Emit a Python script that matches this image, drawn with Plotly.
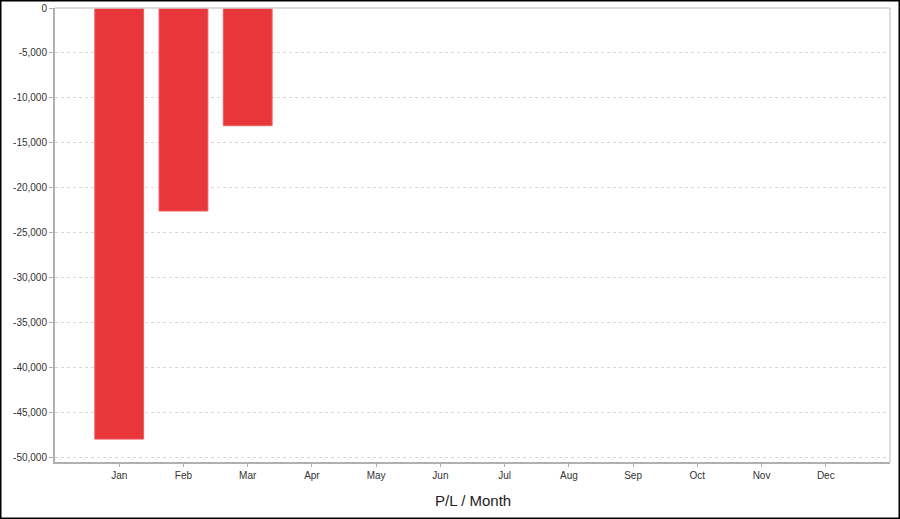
import plotly.graph_objects as go

months = ["Jan", "Feb", "Mar", "Apr", "May", "Jun", "Jul", "Aug", "Sep", "Oct", "Nov", "Dec"]
pl_values = [-48000, -22600, -13100, None, None, None, None, None, None, None, None, None]
y_tick_values = [0, -5000, -10000, -15000, -20000, -25000, -30000, -35000, -40000, -45000, -50000]
y_tick_labels = ["0", "-5,000", "-10,000", "-15,000", "-20,000", "-25,000", "-30,000",
                 "-35,000", "-40,000", "-45,000", "-50,000"]

L, R, T, B = 55, 10, 8, 57
W, H = 900, 519
pw, ph = W - L - R, H - T - B

def px_x(p):
    return (p - L) / pw

def px_y(p):
    return (H - B - p) / ph

fig = go.Figure()
fig.add_trace(go.Bar(
    x=months, y=pl_values, width=0.76,
    marker=dict(color="#e8363b", line=dict(color="#ef5a5e", width=1)),
    hoverinfo="x+y",
))

fig.update_layout(
    width=W, height=H,
    margin=dict(l=L, r=R, t=T, b=B, autoexpand=False),
    paper_bgcolor="white", plot_bgcolor="white",
    showlegend=False,
    font=dict(family="Liberation Sans, Arial, sans-serif", size=10, color="#333333"),
    xaxis=dict(
        type="category", range=[-1, 12], categoryorder="array", categoryarray=months,
        showgrid=False, showline=True, linecolor="#b0b0b0", linewidth=2,
        ticks="outside", ticklen=3, tickcolor="#b0b0b0", tickwidth=1,
        tickfont=dict(size=10, color="#333333"), mirror=False, zeroline=False,
        automargin=False,
    ),
    yaxis=dict(
        range=[-50550, 0], tickvals=y_tick_values, ticktext=y_tick_labels,
        showgrid=True, gridcolor="#d8d8d8", griddash="3px,3px", gridwidth=1,
        showline=True, linecolor="#b0b0b0", linewidth=2,
        ticks="outside", ticklen=4, tickcolor="#b0b0b0", tickwidth=1,
        tickfont=dict(size=10, color="#333333"), zeroline=False,
        automargin=False,
    ),
    shapes=[
        dict(type="line", xref="paper", yref="paper", x0=0, x1=1, y0=1, y1=1,
             line=dict(color="#d0d0d0", width=1.5)),
        dict(type="line", xref="paper", yref="paper", x0=1, x1=1, y0=0, y1=1,
             line=dict(color="#d0d0d0", width=1.5)),
        dict(type="rect", xref="paper", yref="paper",
             x0=px_x(0.75), x1=px_x(W - 0.75), y0=px_y(H - 0.75), y1=px_y(0.75),
             line=dict(color="black", width=1.5), fillcolor="rgba(0,0,0,0)", layer="above"),
    ],
    annotations=[
        dict(text="P/L / Month", xref="paper", yref="paper", x=0.5, y=px_y(500.5),
             xanchor="center", yanchor="middle", showarrow=False,
             font=dict(size=15, color="#222222", family="Liberation Sans, Arial, sans-serif")),
    ],
)

fig.write_html(
    "out.html",
    config={"displayModeBar": False},
    post_script=(
        "document.body.style.margin='0';document.body.style.padding='0';"
        "document.documentElement.style.overflow='hidden';"
        "var gd=document.getElementById('{plot_id}');"
        "gd.style.position='absolute';gd.style.top='0px';gd.style.left='0px';"
    ),
)
